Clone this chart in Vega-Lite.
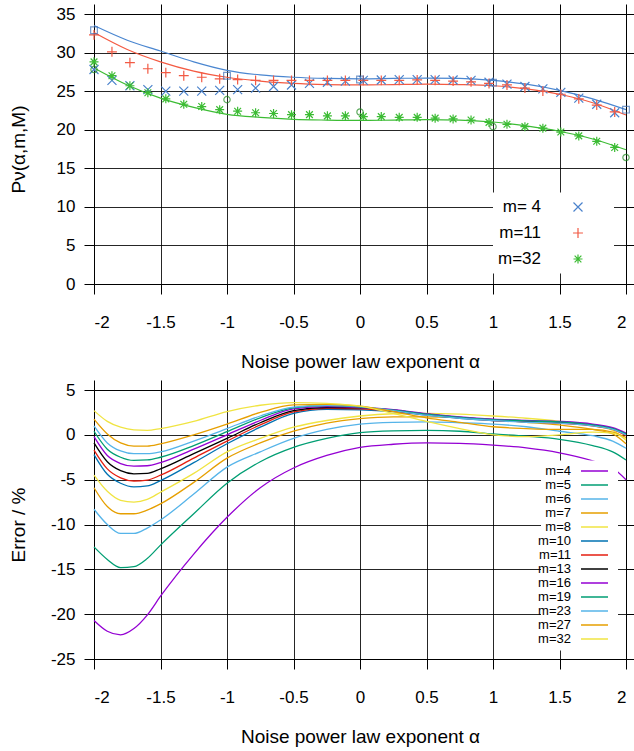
{
  "$schema": "https://vega.github.io/schema/vega-lite/v6.json",
  "padding": {"left": 8, "top": 3, "right": 0, "bottom": 0},
  "spacing": 7,
  "config": {
    "font": "Liberation Sans",
    "axis": {"labelFont": "Liberation Sans", "labelFontSize": 17, "labelColor": "black", "titleFont": "Liberation Sans", "titleFontSize": 19, "titleFontWeight": "normal", "titleColor": "black", "tickColor": "black", "tickSize": 10, "tickWidth": 1, "domain": false, "gridColor": "black", "gridOpacity": 0.85, "gridWidth": 1},
    "view": {"stroke": "black", "strokeWidth": 1},
    "legend": {"labelFont": "Liberation Sans", "labelColor": "black"}
  },
  "datasets": {
    "pts": [
      {"s":"m= 4","a":-2,"v":27.8},{"s":"m= 4","a":-1.865,"v":26.4},{"s":"m= 4","a":-1.73,"v":25.7},{"s":"m= 4","a":-1.595,"v":25.2},{"s":"m= 4","a":-1.46,"v":25.0},{"s":"m= 4","a":-1.325,"v":25.0},{"s":"m= 4","a":-1.19,"v":25.0},{"s":"m= 4","a":-1.055,"v":25.1},{"s":"m= 4","a":-0.92,"v":25.2},{"s":"m= 4","a":-0.785,"v":25.4},{"s":"m= 4","a":-0.65,"v":25.6},{"s":"m= 4","a":-0.515,"v":25.8},{"s":"m= 4","a":-0.38,"v":26.0},{"s":"m= 4","a":-0.245,"v":26.15},{"s":"m= 4","a":-0.11,"v":26.3},{"s":"m= 4","a":0.025,"v":26.4},{"s":"m= 4","a":0.16,"v":26.45},{"s":"m= 4","a":0.295,"v":26.5},{"s":"m= 4","a":0.43,"v":26.5},{"s":"m= 4","a":0.565,"v":26.5},{"s":"m= 4","a":0.7,"v":26.45},{"s":"m= 4","a":0.835,"v":26.4},{"s":"m= 4","a":0.97,"v":26.15},{"s":"m= 4","a":1.105,"v":25.9},{"s":"m= 4","a":1.24,"v":25.6},{"s":"m= 4","a":1.375,"v":25.3},{"s":"m= 4","a":1.51,"v":24.85},{"s":"m= 4","a":1.645,"v":24.1},{"s":"m= 4","a":1.78,"v":23.3},{"s":"m= 4","a":1.915,"v":22.2},
      {"s":"m=11","a":-2,"v":32.3},{"s":"m=11","a":-1.865,"v":30.1},{"s":"m=11","a":-1.73,"v":28.7},{"s":"m=11","a":-1.595,"v":27.9},{"s":"m=11","a":-1.46,"v":27.4},{"s":"m=11","a":-1.325,"v":27.0},{"s":"m=11","a":-1.19,"v":26.8},{"s":"m=11","a":-1.055,"v":26.6},{"s":"m=11","a":-0.92,"v":26.5},{"s":"m=11","a":-0.785,"v":26.4},{"s":"m=11","a":-0.65,"v":26.4},{"s":"m=11","a":-0.515,"v":26.4},{"s":"m=11","a":-0.38,"v":26.4},{"s":"m=11","a":-0.245,"v":26.4},{"s":"m=11","a":-0.11,"v":26.4},{"s":"m=11","a":0.025,"v":26.4},{"s":"m=11","a":0.16,"v":26.4},{"s":"m=11","a":0.295,"v":26.4},{"s":"m=11","a":0.43,"v":26.45},{"s":"m=11","a":0.565,"v":26.4},{"s":"m=11","a":0.7,"v":26.3},{"s":"m=11","a":0.835,"v":26.2},{"s":"m=11","a":0.97,"v":26.0},{"s":"m=11","a":1.105,"v":25.8},{"s":"m=11","a":1.24,"v":25.4},{"s":"m=11","a":1.375,"v":25.0},{"s":"m=11","a":1.51,"v":24.6},{"s":"m=11","a":1.645,"v":24.0},{"s":"m=11","a":1.78,"v":23.2},{"s":"m=11","a":1.915,"v":22.3},
      {"s":"m=32","a":-2,"v":28.8},{"s":"m=32","a":-1.865,"v":27.0},{"s":"m=32","a":-1.73,"v":25.7},{"s":"m=32","a":-1.595,"v":24.8},{"s":"m=32","a":-1.46,"v":24.0},{"s":"m=32","a":-1.325,"v":23.3},{"s":"m=32","a":-1.19,"v":23.0},{"s":"m=32","a":-1.055,"v":22.6},{"s":"m=32","a":-0.92,"v":22.4},{"s":"m=32","a":-0.785,"v":22.2},{"s":"m=32","a":-0.65,"v":22.1},{"s":"m=32","a":-0.515,"v":21.95},{"s":"m=32","a":-0.38,"v":21.95},{"s":"m=32","a":-0.245,"v":21.8},{"s":"m=32","a":-0.11,"v":21.8},{"s":"m=32","a":0.025,"v":21.7},{"s":"m=32","a":0.16,"v":21.7},{"s":"m=32","a":0.295,"v":21.6},{"s":"m=32","a":0.43,"v":21.6},{"s":"m=32","a":0.565,"v":21.5},{"s":"m=32","a":0.7,"v":21.4},{"s":"m=32","a":0.835,"v":21.25},{"s":"m=32","a":0.97,"v":20.95},{"s":"m=32","a":1.105,"v":20.7},{"s":"m=32","a":1.24,"v":20.4},{"s":"m=32","a":1.375,"v":20.2},{"s":"m=32","a":1.51,"v":19.7},{"s":"m=32","a":1.645,"v":19.2},{"s":"m=32","a":1.78,"v":18.5},{"s":"m=32","a":1.915,"v":17.7}
    ],
    "fit": [
      {"s":"m= 4","a":-2,"v":33.5},{"s":"m= 4","a":-1.75,"v":31.6},{"s":"m= 4","a":-1.5,"v":30.2},{"s":"m= 4","a":-1.25,"v":28.8},{"s":"m= 4","a":-1,"v":27.7},{"s":"m= 4","a":-0.75,"v":27.1},{"s":"m= 4","a":-0.5,"v":26.8},{"s":"m= 4","a":-0.25,"v":26.65},{"s":"m= 4","a":0,"v":26.6},{"s":"m= 4","a":0.25,"v":26.65},{"s":"m= 4","a":0.5,"v":26.7},{"s":"m= 4","a":0.75,"v":26.65},{"s":"m= 4","a":1,"v":26.4},{"s":"m= 4","a":1.25,"v":25.9},{"s":"m= 4","a":1.5,"v":25.1},{"s":"m= 4","a":1.75,"v":24.0},{"s":"m= 4","a":2,"v":22.6},
      {"s":"m=11","a":-2,"v":32.6},{"s":"m=11","a":-1.75,"v":30.4},{"s":"m=11","a":-1.5,"v":28.8},{"s":"m=11","a":-1.25,"v":27.6},{"s":"m=11","a":-1,"v":26.8},{"s":"m=11","a":-0.75,"v":26.3},{"s":"m=11","a":-0.5,"v":26.0},{"s":"m=11","a":-0.25,"v":25.85},{"s":"m=11","a":0,"v":25.8},{"s":"m=11","a":0.25,"v":25.85},{"s":"m=11","a":0.5,"v":25.9},{"s":"m=11","a":0.75,"v":25.85},{"s":"m=11","a":1,"v":25.7},{"s":"m=11","a":1.25,"v":25.3},{"s":"m=11","a":1.5,"v":24.6},{"s":"m=11","a":1.75,"v":23.5},{"s":"m=11","a":2,"v":21.9},
      {"s":"m=32","a":-2,"v":28.0},{"s":"m=32","a":-1.75,"v":25.8},{"s":"m=32","a":-1.5,"v":24.1},{"s":"m=32","a":-1.25,"v":22.9},{"s":"m=32","a":-1,"v":22.0},{"s":"m=32","a":-0.75,"v":21.6},{"s":"m=32","a":-0.5,"v":21.35},{"s":"m=32","a":-0.25,"v":21.25},{"s":"m=32","a":0,"v":21.2},{"s":"m=32","a":0.25,"v":21.25},{"s":"m=32","a":0.5,"v":21.3},{"s":"m=32","a":0.75,"v":21.25},{"s":"m=32","a":1,"v":21.0},{"s":"m=32","a":1.25,"v":20.5},{"s":"m=32","a":1.5,"v":19.8},{"s":"m=32","a":1.75,"v":18.8},{"s":"m=32","a":2,"v":17.4}
    ],
    "marks": [
      {"k":"sq","a":-2,"v":32.9},{"k":"sq","a":-1,"v":27.0},{"k":"sq","a":0,"v":26.5},{"k":"sq","a":1,"v":26.1},{"k":"sq","a":2,"v":22.6},
      {"k":"ci","a":-2,"v":27.8},{"k":"ci","a":-1,"v":23.9},{"k":"ci","a":0,"v":22.3},{"k":"ci","a":1,"v":20.4},{"k":"ci","a":2,"v":16.4}
    ],
    "err": [
      {"m":"m=4","a":-2,"e":-20.7},{"m":"m=4","a":-1.9,"e":-21.9},{"m":"m=4","a":-1.8,"e":-22.3},{"m":"m=4","a":-1.7,"e":-21.6},{"m":"m=4","a":-1.6,"e":-20.1},{"m":"m=4","a":-1.5,"e":-18.0},{"m":"m=4","a":-1.25,"e":-13.3},{"m":"m=4","a":-1,"e":-9.2},{"m":"m=4","a":-0.75,"e":-5.9},{"m":"m=4","a":-0.5,"e":-3.7},{"m":"m=4","a":-0.25,"e":-2.3},{"m":"m=4","a":0,"e":-1.4},{"m":"m=4","a":0.25,"e":-1.05},{"m":"m=4","a":0.5,"e":-0.9},{"m":"m=4","a":0.75,"e":-0.95},{"m":"m=4","a":1,"e":-1.15},{"m":"m=4","a":1.25,"e":-1.45},{"m":"m=4","a":1.5,"e":-2.0},{"m":"m=4","a":1.75,"e":-2.9},{"m":"m=4","a":1.9,"e":-3.7},{"m":"m=4","a":2,"e":-5.0},
      {"m":"m=5","a":-2,"e":-12.5},{"m":"m=5","a":-1.9,"e":-13.9},{"m":"m=5","a":-1.8,"e":-14.8},{"m":"m=5","a":-1.7,"e":-14.7},{"m":"m=5","a":-1.6,"e":-13.8},{"m":"m=5","a":-1.5,"e":-12.3},{"m":"m=5","a":-1.25,"e":-8.8},{"m":"m=5","a":-1,"e":-5.4},{"m":"m=5","a":-0.75,"e":-3.0},{"m":"m=5","a":-0.5,"e":-1.4},{"m":"m=5","a":-0.25,"e":-0.4},{"m":"m=5","a":0,"e":0.25},{"m":"m=5","a":0.25,"e":0.45},{"m":"m=5","a":0.5,"e":0.5},{"m":"m=5","a":0.75,"e":0.4},{"m":"m=5","a":1,"e":0.1},{"m":"m=5","a":1.25,"e":-0.15},{"m":"m=5","a":1.5,"e":-0.5},{"m":"m=5","a":1.75,"e":-1.2},{"m":"m=5","a":1.9,"e":-1.9},{"m":"m=5","a":2,"e":-2.8},
      {"m":"m=6","a":-2,"e":-8.3},{"m":"m=6","a":-1.9,"e":-10.0},{"m":"m=6","a":-1.8,"e":-11.0},{"m":"m=6","a":-1.7,"e":-11.0},{"m":"m=6","a":-1.6,"e":-10.4},{"m":"m=6","a":-1.5,"e":-9.5},{"m":"m=6","a":-1.25,"e":-6.6},{"m":"m=6","a":-1,"e":-3.6},{"m":"m=6","a":-0.75,"e":-1.9},{"m":"m=6","a":-0.5,"e":-0.4},{"m":"m=6","a":-0.25,"e":0.6},{"m":"m=6","a":0,"e":1.2},{"m":"m=6","a":0.25,"e":1.4},{"m":"m=6","a":0.5,"e":1.45},{"m":"m=6","a":0.75,"e":1.35},{"m":"m=6","a":1,"e":1.2},{"m":"m=6","a":1.25,"e":0.9},{"m":"m=6","a":1.5,"e":0.4},{"m":"m=6","a":1.75,"e":-0.1},{"m":"m=6","a":1.9,"e":-0.7},{"m":"m=6","a":2,"e":-1.5},
      {"m":"m=7","a":-2,"e":-5.9},{"m":"m=7","a":-1.9,"e":-8.0},{"m":"m=7","a":-1.8,"e":-8.8},{"m":"m=7","a":-1.7,"e":-8.8},{"m":"m=7","a":-1.6,"e":-8.4},{"m":"m=7","a":-1.5,"e":-7.7},{"m":"m=7","a":-1.25,"e":-5.3},{"m":"m=7","a":-1,"e":-2.6},{"m":"m=7","a":-0.75,"e":-0.9},{"m":"m=7","a":-0.5,"e":0.4},{"m":"m=7","a":-0.25,"e":1.3},{"m":"m=7","a":0,"e":1.8},{"m":"m=7","a":0.25,"e":2.0},{"m":"m=7","a":0.5,"e":2.0},{"m":"m=7","a":0.75,"e":1.9},{"m":"m=7","a":1,"e":1.7},{"m":"m=7","a":1.25,"e":1.4},{"m":"m=7","a":1.5,"e":1.1},{"m":"m=7","a":1.75,"e":0.6},{"m":"m=7","a":1.9,"e":0.1},{"m":"m=7","a":2,"e":-1.0},
      {"m":"m=8","a":-2,"e":-4.5},{"m":"m=8","a":-1.9,"e":-6.3},{"m":"m=8","a":-1.8,"e":-7.3},{"m":"m=8","a":-1.7,"e":-7.5},{"m":"m=8","a":-1.6,"e":-7.2},{"m":"m=8","a":-1.5,"e":-6.4},{"m":"m=8","a":-1.25,"e":-4.3},{"m":"m=8","a":-1,"e":-1.9},{"m":"m=8","a":-0.75,"e":-0.4},{"m":"m=8","a":-0.5,"e":0.85},{"m":"m=8","a":-0.25,"e":1.6},{"m":"m=8","a":0,"e":2.1},{"m":"m=8","a":0.25,"e":2.35},{"m":"m=8","a":0.5,"e":2.4},{"m":"m=8","a":0.75,"e":2.3},{"m":"m=8","a":1,"e":2.1},{"m":"m=8","a":1.25,"e":1.85},{"m":"m=8","a":1.5,"e":1.5},{"m":"m=8","a":1.75,"e":1.0},{"m":"m=8","a":1.9,"e":0.5},{"m":"m=8","a":2,"e":-0.6},
      {"m":"m=10","a":-2,"e":-2.2},{"m":"m=10","a":-1.9,"e":-4.4},{"m":"m=10","a":-1.8,"e":-5.4},{"m":"m=10","a":-1.7,"e":-5.8},{"m":"m=10","a":-1.6,"e":-5.7},{"m":"m=10","a":-1.5,"e":-5.1},{"m":"m=10","a":-1.25,"e":-3.1},{"m":"m=10","a":-1,"e":-1.0},{"m":"m=10","a":-0.75,"e":0.85},{"m":"m=10","a":-0.5,"e":2.4},{"m":"m=10","a":-0.25,"e":2.85},{"m":"m=10","a":0,"e":2.8},{"m":"m=10","a":0.25,"e":2.6},{"m":"m=10","a":0.5,"e":2.2},{"m":"m=10","a":0.75,"e":1.85},{"m":"m=10","a":1,"e":1.6},{"m":"m=10","a":1.25,"e":1.45},{"m":"m=10","a":1.5,"e":1.35},{"m":"m=10","a":1.75,"e":1.05},{"m":"m=10","a":1.9,"e":0.65},{"m":"m=10","a":2,"e":0.0},
      {"m":"m=11","a":-2,"e":-1.7},{"m":"m=11","a":-1.9,"e":-3.8},{"m":"m=11","a":-1.8,"e":-4.8},{"m":"m=11","a":-1.7,"e":-5.15},{"m":"m=11","a":-1.6,"e":-5.05},{"m":"m=11","a":-1.5,"e":-4.5},{"m":"m=11","a":-1.25,"e":-2.6},{"m":"m=11","a":-1,"e":-0.7},{"m":"m=11","a":-0.75,"e":1.1},{"m":"m=11","a":-0.5,"e":2.55},{"m":"m=11","a":-0.25,"e":2.95},{"m":"m=11","a":0,"e":2.9},{"m":"m=11","a":0.25,"e":2.65},{"m":"m=11","a":0.5,"e":2.25},{"m":"m=11","a":0.75,"e":1.9},{"m":"m=11","a":1,"e":1.6},{"m":"m=11","a":1.25,"e":1.45},{"m":"m=11","a":1.5,"e":1.3},{"m":"m=11","a":1.75,"e":1.0},{"m":"m=11","a":1.9,"e":0.6},{"m":"m=11","a":2,"e":-0.1},
      {"m":"m=13","a":-2,"e":-0.9},{"m":"m=13","a":-1.9,"e":-3.0},{"m":"m=13","a":-1.8,"e":-4.0},{"m":"m=13","a":-1.7,"e":-4.35},{"m":"m=13","a":-1.6,"e":-4.3},{"m":"m=13","a":-1.5,"e":-3.8},{"m":"m=13","a":-1.25,"e":-2.1},{"m":"m=13","a":-1,"e":-0.4},{"m":"m=13","a":-0.75,"e":1.35},{"m":"m=13","a":-0.5,"e":2.7},{"m":"m=13","a":-0.25,"e":3.05},{"m":"m=13","a":0,"e":3.0},{"m":"m=13","a":0.25,"e":2.75},{"m":"m=13","a":0.5,"e":2.3},{"m":"m=13","a":0.75,"e":1.95},{"m":"m=13","a":1,"e":1.7},{"m":"m=13","a":1.25,"e":1.55},{"m":"m=13","a":1.5,"e":1.4},{"m":"m=13","a":1.75,"e":1.1},{"m":"m=13","a":1.9,"e":0.7},{"m":"m=13","a":2,"e":0.1},
      {"m":"m=16","a":-2,"e":-0.2},{"m":"m=16","a":-1.9,"e":-2.3},{"m":"m=16","a":-1.8,"e":-3.2},{"m":"m=16","a":-1.7,"e":-3.5},{"m":"m=16","a":-1.6,"e":-3.45},{"m":"m=16","a":-1.5,"e":-3.1},{"m":"m=16","a":-1.25,"e":-1.6},{"m":"m=16","a":-1,"e":0.0},{"m":"m=16","a":-0.75,"e":1.6},{"m":"m=16","a":-0.5,"e":2.9},{"m":"m=16","a":-0.25,"e":3.15},{"m":"m=16","a":0,"e":3.05},{"m":"m=16","a":0.25,"e":2.8},{"m":"m=16","a":0.5,"e":2.35},{"m":"m=16","a":0.75,"e":2.0},{"m":"m=16","a":1,"e":1.75},{"m":"m=16","a":1.25,"e":1.6},{"m":"m=16","a":1.5,"e":1.5},{"m":"m=16","a":1.75,"e":1.2},{"m":"m=16","a":1.9,"e":0.8},{"m":"m=16","a":2,"e":0.2},
      {"m":"m=19","a":-2,"e":0.4},{"m":"m=19","a":-1.9,"e":-1.6},{"m":"m=19","a":-1.8,"e":-2.5},{"m":"m=19","a":-1.7,"e":-2.85},{"m":"m=19","a":-1.6,"e":-2.8},{"m":"m=19","a":-1.5,"e":-2.5},{"m":"m=19","a":-1.25,"e":-1.2},{"m":"m=19","a":-1,"e":0.35},{"m":"m=19","a":-0.75,"e":1.9},{"m":"m=19","a":-0.5,"e":3.0},{"m":"m=19","a":-0.25,"e":3.25},{"m":"m=19","a":0,"e":3.1},{"m":"m=19","a":0.25,"e":2.75},{"m":"m=19","a":0.5,"e":2.3},{"m":"m=19","a":0.75,"e":1.95},{"m":"m=19","a":1,"e":1.7},{"m":"m=19","a":1.25,"e":1.55},{"m":"m=19","a":1.5,"e":1.45},{"m":"m=19","a":1.75,"e":1.1},{"m":"m=19","a":1.9,"e":0.7},{"m":"m=19","a":2,"e":0.1},
      {"m":"m=23","a":-2,"e":1.0},{"m":"m=23","a":-1.9,"e":-0.9},{"m":"m=23","a":-1.8,"e":-1.8},{"m":"m=23","a":-1.7,"e":-2.1},{"m":"m=23","a":-1.6,"e":-2.1},{"m":"m=23","a":-1.5,"e":-1.9},{"m":"m=23","a":-1.25,"e":-0.7},{"m":"m=23","a":-1,"e":0.7},{"m":"m=23","a":-0.75,"e":2.1},{"m":"m=23","a":-0.5,"e":3.1},{"m":"m=23","a":-0.25,"e":3.3},{"m":"m=23","a":0,"e":3.15},{"m":"m=23","a":0.25,"e":2.7},{"m":"m=23","a":0.5,"e":2.2},{"m":"m=23","a":0.75,"e":1.85},{"m":"m=23","a":1,"e":1.6},{"m":"m=23","a":1.25,"e":1.4},{"m":"m=23","a":1.5,"e":1.3},{"m":"m=23","a":1.75,"e":1.0},{"m":"m=23","a":1.9,"e":0.6},{"m":"m=23","a":2,"e":0.0},
      {"m":"m=27","a":-2,"e":1.75},{"m":"m=27","a":-1.9,"e":0.1},{"m":"m=27","a":-1.8,"e":-0.9},{"m":"m=27","a":-1.7,"e":-1.25},{"m":"m=27","a":-1.6,"e":-1.25},{"m":"m=27","a":-1.5,"e":-1.0},{"m":"m=27","a":-1.25,"e":0.0},{"m":"m=27","a":-1,"e":1.2},{"m":"m=27","a":-0.75,"e":2.5},{"m":"m=27","a":-0.5,"e":3.35},{"m":"m=27","a":-0.25,"e":3.4},{"m":"m=27","a":0,"e":3.2},{"m":"m=27","a":0.25,"e":2.6},{"m":"m=27","a":0.5,"e":1.9},{"m":"m=27","a":0.75,"e":1.4},{"m":"m=27","a":1,"e":0.9},{"m":"m=27","a":1.25,"e":0.7},{"m":"m=27","a":1.5,"e":0.6},{"m":"m=27","a":1.75,"e":0.6},{"m":"m=27","a":1.9,"e":0.3},{"m":"m=27","a":2,"e":-0.3},
      {"m":"m=32","a":-2,"e":2.7},{"m":"m=32","a":-1.9,"e":1.5},{"m":"m=32","a":-1.8,"e":0.85},{"m":"m=32","a":-1.7,"e":0.55},{"m":"m=32","a":-1.6,"e":0.5},{"m":"m=32","a":-1.5,"e":0.7},{"m":"m=32","a":-1.25,"e":1.5},{"m":"m=32","a":-1,"e":2.6},{"m":"m=32","a":-0.75,"e":3.3},{"m":"m=32","a":-0.5,"e":3.6},{"m":"m=32","a":-0.25,"e":3.5},{"m":"m=32","a":0,"e":3.2},{"m":"m=32","a":0.25,"e":2.4},{"m":"m=32","a":0.5,"e":1.5},{"m":"m=32","a":0.75,"e":0.7},{"m":"m=32","a":1,"e":0.0},{"m":"m=32","a":1.25,"e":-0.2},{"m":"m=32","a":1.5,"e":0.0},{"m":"m=32","a":1.75,"e":0.3},{"m":"m=32","a":1.9,"e":0.2},{"m":"m=32","a":2,"e":-0.5}
    ]
  },
  "vconcat": [
    {
      "width": 532, "height": 270,
      "resolve": {"axis": {"x": "independent", "y": "independent"}, "scale": {"color": "independent", "shape": "independent"}},
      "layer": [
        {
          "data": {"name": "fit"},
          "mark": {"type": "line", "interpolate": "monotone", "strokeWidth": 1.2},
          "encoding": {
            "x": {"field": "a", "type": "quantitative", "scale": {"domain": [-2, 2], "nice": false},
                  "axis": {"orient": "bottom", "values": [-2,-1.5,-1,-0.5,0,0.5,1,1.5,2], "labelExpr": "toString(datum.value)", "labelPadding": 20, "titlePadding": 22, "title": "Noise power law exponent α", "grid": true}},
            "y": {"field": "v", "type": "quantitative", "scale": {"domain": [0, 35], "nice": false},
                  "axis": {"orient": "left", "values": [0,5,10,15,20,25,30,35], "labelExpr": "toString(datum.value)", "labelPadding": 9, "title": "Pν(α,m,M)", "titleX": -76, "titleY": 135, "titleBaseline": "middle", "titleAngle": 270, "grid": true}},
            "color": {"field": "s", "type": "nominal", "scale": {"domain": ["m= 4", "m=11", "m=32"], "range": ["#4a86d0", "#f45a42", "#3cbc34"]}, "legend": null}
          }
        },
        {
          "data": {"name": "pts"},
          "mark": {"type": "point", "filled": false, "strokeWidth": 1.2, "size": 81, "opacity": 1},
          "encoding": {
            "x": {"field": "a", "type": "quantitative", "axis": {"orient": "top", "values": [-2,-1.5,-1,-0.5,0,0.5,1,1.5,2], "labels": false, "title": null, "grid": false}},
            "y": {"field": "v", "type": "quantitative", "axis": {"orient": "right", "values": [0,5,10,15,20,25,30,35], "labels": false, "title": null, "grid": false}},
            "color": {"field": "s", "type": "nominal", "scale": {"domain": ["m= 4", "m=11", "m=32"], "range": ["#4a82cc", "#f25a44", "#3cbc34"]},
                      "legend": {"orient": "none", "legendX": 399, "legendY": 178.5, "title": null, "fillColor": "white", "padding": 6, "labelAlign": "right", "labelOffset": -45.5, "symbolOffset": 70.5, "labelFontSize": 17, "rowPadding": 8, "symbolSize": 81, "symbolStrokeWidth": 1.2}},
            "shape": {"field": "s", "type": "nominal", "scale": {"domain": ["m= 4", "m=11", "m=32"], "range": ["M-1,-1L1,1M-1,1L1,-1M6,0", "M-1.1,0L1.1,0M0,-1.1L0,1.1M6,0", "M-1,0L1,0M0,-1L0,1M-0.75,-0.75L0.75,0.75M-0.75,0.75L0.75,-0.75M6,0"]},
                      "legend": {"orient": "none", "legendX": 399, "legendY": 178.5, "title": null, "fillColor": "white", "padding": 6, "labelAlign": "right", "labelOffset": -45.5, "symbolOffset": 70.5, "labelFontSize": 17, "rowPadding": 8, "symbolSize": 81, "symbolStrokeWidth": 1.2}}
          }
        },
        {
          "data": {"name": "marks"},
          "transform": [{"filter": "datum.k == 'sq'"}],
          "mark": {"type": "point", "shape": "square", "filled": false, "color": "#3d6fb5", "strokeWidth": 1.2, "size": 45},
          "encoding": {
            "x": {"field": "a", "type": "quantitative", "axis": null},
            "y": {"field": "v", "type": "quantitative", "axis": null}
          }
        },
        {
          "data": {"name": "marks"},
          "transform": [{"filter": "datum.k == 'ci'"}],
          "mark": {"type": "point", "shape": "circle", "filled": false, "color": "#1f8a1f", "strokeWidth": 1.2, "size": 40},
          "encoding": {
            "x": {"field": "a", "type": "quantitative", "axis": null},
            "y": {"field": "v", "type": "quantitative", "axis": null}
          }
        }
      ]
    },
    {
      "width": 532, "height": 269,
      "resolve": {"axis": {"x": "independent", "y": "independent"}},
      "layer": [
        {
          "data": {"name": "err"},
          "mark": {"type": "line", "interpolate": "monotone", "strokeWidth": 1.3},
          "encoding": {
            "x": {"field": "a", "type": "quantitative", "scale": {"domain": [-2, 2], "nice": false},
                  "axis": {"orient": "bottom", "values": [-2,-1.5,-1,-0.5,0,0.5,1,1.5,2], "labelExpr": "toString(datum.value)", "labelPadding": 20, "titlePadding": 22, "title": "Noise power law exponent α", "grid": true}},
            "y": {"field": "e", "type": "quantitative", "scale": {"domain": [-25, 5], "nice": false},
                  "axis": {"orient": "left", "values": [-25,-20,-15,-10,-5,0,5], "labelExpr": "toString(datum.value)", "labelPadding": 9, "title": "Error / %", "titleX": -76, "titleY": 134.5, "titleBaseline": "middle", "titleAngle": 270, "grid": true}},
            "color": {"field": "m", "type": "nominal",
                      "scale": {"domain": ["m=4","m=5","m=6","m=7","m=8","m=10","m=11","m=13","m=16","m=19","m=23","m=27","m=32"],
                                "range": ["#9400d3","#009e73","#56b4e9","#e69f00","#f0e442","#0072b2","#e51e10","#000000","#9400d3","#009e73","#56b4e9","#e69f00","#f0e442"]},
                      "legend": {"orient": "none", "legendX": 447, "legendY": 446.5, "title": null, "fillColor": "white", "padding": 4, "labelAlign": "right", "labelOffset": -30, "symbolOffset": 43, "labelFontSize": 13, "rowPadding": 0, "symbolType": "M-3,0L3,0M3.6,0", "symbolSize": 81, "symbolStrokeWidth": 1.5}}
          }
        },
        {
          "data": {"name": "err"},
          "mark": {"type": "line", "strokeOpacity": 0},
          "encoding": {
            "x": {"field": "a", "type": "quantitative", "axis": {"orient": "top", "values": [-2,-1.5,-1,-0.5,0,0.5,1,1.5,2], "labels": false, "title": null, "grid": false}},
            "y": {"field": "e", "type": "quantitative", "axis": {"orient": "right", "values": [-25,-20,-15,-10,-5,0,5], "labels": false, "title": null, "grid": false}}
          }
        }
      ]
    }
  ]
}
